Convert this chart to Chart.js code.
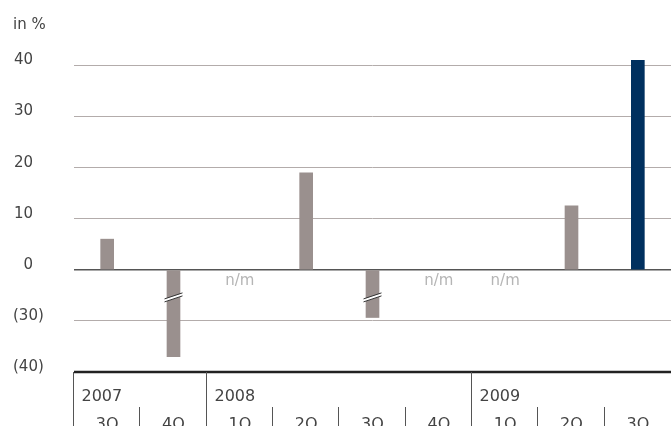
<!DOCTYPE html>
<html>
<head>
<meta charset="utf-8">
<script src="https://cdn.jsdelivr.net/npm/chart.js@4.4.0/dist/chart.umd.min.js"></script>
<style>
  html, body { margin: 0; padding: 0; background: #fff; }
  #wrap { width: 671px; height: 426px; position: relative; }
</style>
</head>
<body>
<div id="wrap"><canvas id="myChart"></canvas></div>
<script>
// Quarter labels and the year each quarter belongs to
const quarters = ['3Q', '4Q', '1Q', '2Q', '3Q', '4Q', '1Q', '2Q', '3Q'];
const years = ['2007', '2007', '2008', '2008', '2008', '2008', '2009', '2009', '2009'];

// Change in % (null = n/m)
const values = [6, -37, null, 19, -28, null, null, 12.5, 41];

// Tick values shown on the (broken) y axis
const yTicks = [40, 30, 20, 10, 0, -30, -40];
const gridTicks = [40, 30, 20, 10, 0, -30];

const GRAY = '#9a908e';
const BLUE = '#00305f';
const TEXT = '#444444';
const FONT = '"DejaVu Sans", sans-serif';

// Axis is broken below zero: 0..-30 is squeezed into one step
function toAxis(v) {
  if (v === null) return null;
  if (v >= 0) return v;
  if (v >= -30) return v / 3;
  return v + 20;
}

function fmtTick(v) {
  return v < 0 ? `(${-v})` : `${v}`;
}

const brokenAxisPlugin = {
  id: 'brokenAxisPlugin',
  afterDatasetsDraw(chart) {
    const { ctx, chartArea, scales } = chart;
    const y = scales.y;
    const meta = chart.getDatasetMeta(0);
    ctx.save();

    // break marks on negative bars
    const yBreak = y.getPixelForValue(-5.4);
    meta.data.forEach((bar, i) => {
      const v = values[i];
      if (v === null || v >= 0) return;
      const x = bar.x;
      const half = 9;
      const slope = 3;
      ctx.fillStyle = '#fff';
      ctx.beginPath();
      ctx.moveTo(x - half, yBreak + slope - 1.5);
      ctx.lineTo(x + half, yBreak - slope - 1.5);
      ctx.lineTo(x + half, yBreak - slope + 1.5);
      ctx.lineTo(x - half, yBreak + slope + 1.5);
      ctx.closePath();
      ctx.fill();
      ctx.strokeStyle = '#333';
      ctx.lineWidth = 1;
      [-1.5, 1.5].forEach((d) => {
        ctx.beginPath();
        ctx.moveTo(x - half, yBreak + slope + d);
        ctx.lineTo(x + half, yBreak - slope + d);
        ctx.stroke();
      });
    });

    // n/m labels
    ctx.fillStyle = '#b5b5b5';
    ctx.font = `15px ${FONT}`;
    ctx.textAlign = 'center';
    ctx.textBaseline = 'middle';
    meta.data.forEach((bar, i) => {
      if (values[i] !== null) return;
      ctx.fillText('n/m', bar.x, y.getPixelForValue(0) + 11);
    });

    // y tick labels: numbers right aligned, bracketed ones left aligned
    ctx.fillStyle = TEXT;
    ctx.font = `15px ${FONT}`;
    ctx.textBaseline = 'middle';
    yTicks.forEach((v) => {
      const py = y.getPixelForValue(toAxis(v)) - 5;
      if (v < 0) {
        ctx.textAlign = 'left';
        ctx.fillText(fmtTick(v), 13, py);
      } else {
        ctx.textAlign = 'right';
        ctx.fillText(fmtTick(v), 33, py);
      }
    });

    // unit label
    ctx.textAlign = 'left';
    ctx.fillText('in %', 13, 25);

    // bottom axis
    const baseY = y.getPixelForValue(-20);
    ctx.strokeStyle = '#222';
    ctx.lineWidth = 2.5;
    ctx.beginPath();
    ctx.moveTo(chartArea.left, baseY);
    ctx.lineTo(chartArea.right, baseY);
    ctx.stroke();

    const step = (chartArea.right - chartArea.left) / quarters.length;
    ctx.strokeStyle = '#555';
    ctx.lineWidth = 1;
    ctx.font = `16px ${FONT}`;
    for (let i = 0; i < quarters.length; i++) {
      const left = Math.round(chartArea.left + step * i) - 0.5;
      const newYear = i === 0 || years[i] !== years[i - 1];
      ctx.beginPath();
      ctx.moveTo(left, newYear ? baseY : baseY + 35);
      ctx.lineTo(left, 426);
      ctx.stroke();
      ctx.fillStyle = TEXT;
      if (newYear) {
        ctx.textAlign = 'left';
        ctx.textBaseline = 'middle';
        ctx.fillText(years[i], left + 8, baseY + 25);
      }
      ctx.textAlign = 'center';
      ctx.textBaseline = 'alphabetic';
      ctx.fillText(quarters[i], meta.data[i].x, baseY + 57);
    }

    ctx.restore();
  },
};

const ctx = document.getElementById('myChart');

new Chart(ctx, {
  type: 'bar',
  data: {
    labels: quarters,
    datasets: [
      {
        data: values.map(toAxis),
        backgroundColor: values.map((v, i) => (i === values.length - 1 ? BLUE : GRAY)),
        borderWidth: 0,
        barThickness: 13,
      },
    ],
  },
  options: {
    responsive: true,
    maintainAspectRatio: false,
    animation: false,
    layout: {
      padding: { left: 74, right: 0, top: 45, bottom: 54 },
    },
    plugins: {
      legend: { display: false },
      tooltip: { enabled: false },
    },
    scales: {
      x: {
        display: false,
      },
      y: {
        min: -20,
        max: 44,
        afterBuildTicks: (scale) => {
          scale.ticks = gridTicks.map((v) => ({ value: toAxis(v) }));
        },
        ticks: { display: false },
        border: { display: false },
        grid: {
          color: (c) => (c.tick.value === 0 ? '#555555' : '#b3acab'),
          lineWidth: (c) => (c.tick.value === 0 ? 1.5 : 1),
          drawTicks: false,
        },
      },
    },
  },
  plugins: [brokenAxisPlugin],
});
</script>
</body>
</html>
